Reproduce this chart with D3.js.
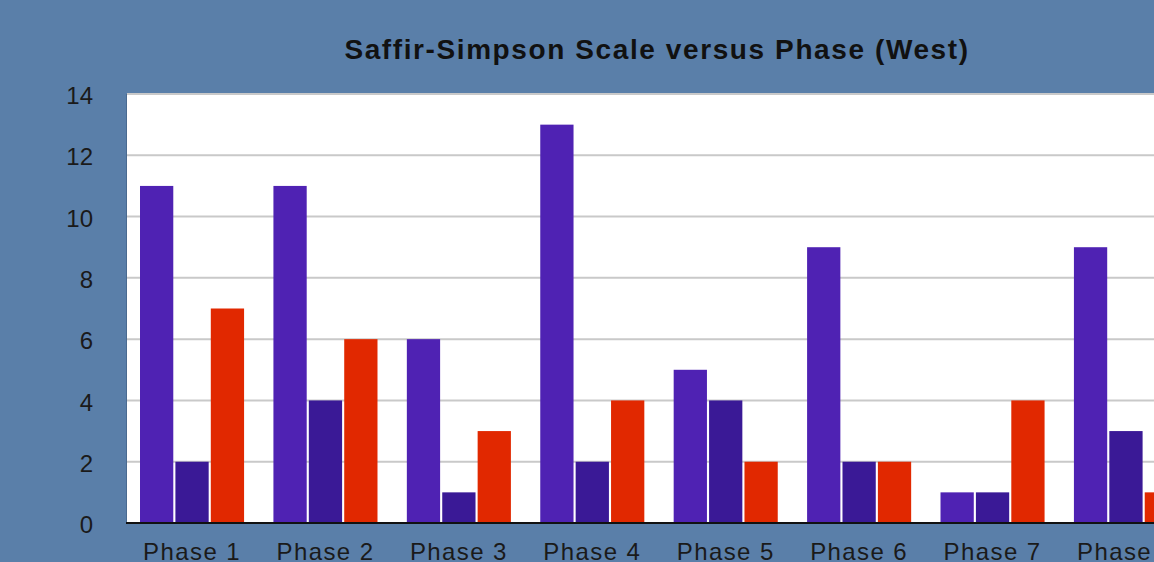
<!DOCTYPE html>
<html>
<head>
<meta charset="utf-8">
<script src="https://cdn.jsdelivr.net/npm/d3@7/dist/d3.min.js"></script>
<style>
  html, body { margin: 0; padding: 0; background: #5a7fa9; overflow: hidden; }
  svg { display: block; }
  text { font-family: "Liberation Sans", Arial, sans-serif; }
</style>
</head>
<body>
<svg id="chart" width="1154" height="562"></svg>
<script>
// Storm counts per MJO phase, split by Saffir-Simpson grouping
const phases = ["Phase 1", "Phase 2", "Phase 3", "Phase 4", "Phase 5", "Phase 6", "Phase 7", "Phase 8"];
const seriesNames = ["A", "B", "C"];
const seriesA = [11, 11, 6, 13, 5, 9, 1, 9];
const seriesB = [2, 4, 1, 2, 4, 2, 1, 3];
const seriesC = [7, 6, 3, 4, 2, 2, 4, 1];
const yTicks = [0, 2, 4, 6, 8, 10, 12, 14];
const colors = ["#4f22b3", "#3a1996", "#e12800"];
const title = "Saffir-Simpson Scale versus Phase (West)";

const series = [seriesA, seriesB, seriesC];
const rows = phases.map((p, i) => ({ phase: p, values: series.map(s => s[i]) }));

const svg = d3.select("#chart");
const plot = { left: 126, top: 94, bottom: 523, right: 1192 };

const y = d3.scaleLinear().domain([0, 14]).range([plot.bottom, plot.top]);
const x0 = d3.scaleBand().domain(phases)
  .range([plot.left, plot.right])
  .paddingInner(0.22)
  .paddingOuter(0.105);
const x1 = d3.scaleBand().domain(seriesNames)
  .range([0, x0.bandwidth()])
  .paddingInner(0.06);

// plot background
svg.append("rect")
  .attr("x", plot.left).attr("y", plot.top)
  .attr("width", plot.right - plot.left).attr("height", plot.bottom - plot.top)
  .attr("fill", "#ffffff");
svg.append("line")
  .attr("x1", plot.left + 0.5).attr("x2", plot.left + 0.5)
  .attr("y1", plot.top).attr("y2", plot.bottom)
  .attr("stroke", "#4a6a90").attr("stroke-width", 1);

// horizontal gridlines
svg.append("g")
  .selectAll("line")
  .data(yTicks.filter(t => t > 0))
  .join("line")
  .attr("x1", plot.left + 1).attr("x2", plot.right)
  .attr("y1", d => y(d)).attr("y2", d => y(d))
  .attr("stroke", "#c9c9c9").attr("stroke-width", 2);

// bars
svg.append("g")
  .selectAll("g")
  .data(rows)
  .join("g")
  .attr("transform", d => `translate(${x0(d.phase)},0)`)
  .selectAll("rect")
  .data(d => d.values.map((v, j) => ({ key: seriesNames[j], v, j })))
  .join("rect")
  .attr("x", d => x1(d.key))
  .attr("width", x1.bandwidth())
  .attr("y", d => y(d.v))
  .attr("height", d => y(0) - y(d.v))
  .attr("fill", d => colors[d.j]);

// zero baseline
svg.append("line")
  .attr("x1", plot.left).attr("x2", plot.right)
  .attr("y1", y(0)).attr("y2", y(0))
  .attr("stroke", "#111").attr("stroke-width", 2);

// y axis labels
const yAxis = d3.axisLeft(y).tickValues(yTicks).tickSize(0).tickPadding(0);
const gy = svg.append("g").attr("transform", "translate(93,2)").call(yAxis);
gy.select(".domain").remove();
gy.selectAll("text")
  .attr("font-size", 24).attr("fill", "#1a1a1a")
  .attr("font-family", "'Liberation Sans', Arial, sans-serif");

// x axis labels
const xAxis = d3.axisBottom(x0).tickSize(0).tickPadding(0);
const gx = svg.append("g").attr("transform", `translate(0,${plot.bottom + 20})`).call(xAxis);
gx.select(".domain").remove();
gx.selectAll("text")
  .attr("font-size", 24).attr("fill", "#1a1a1a")
  .attr("letter-spacing", "1.4px")
  .attr("font-family", "'Liberation Sans', Arial, sans-serif");

// title
svg.append("text")
  .attr("x", 657).attr("y", 59)
  .attr("text-anchor", "middle")
  .attr("font-size", 28).attr("font-weight", "bold").attr("fill", "#111")
  .attr("letter-spacing", "1.6px")
  .text(title);
</script>
</body>
</html>
